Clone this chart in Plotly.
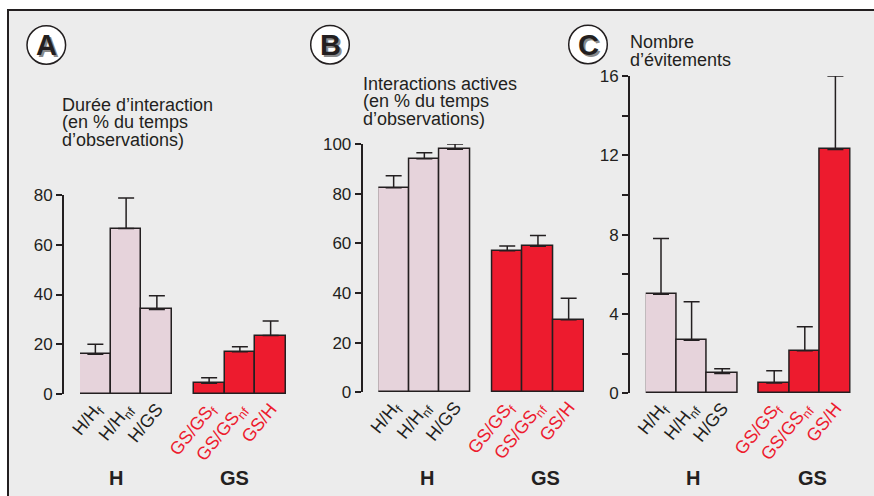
import plotly.graph_objects as go

W, H = 874, 496

# ---------------- data ----------------
h_labels = ["H/H<sub>f</sub>", "H/H<sub>nf</sub>", "H/GS"]
gs_labels = ["GS/GS<sub>f</sub>", "GS/GS<sub>nf</sub>", "GS/H"]

a_h_mean = [16, 66.5, 34]
a_h_err = [4, 12.3, 5.5]
a_gs_mean = [4.3, 17, 23.5]
a_gs_err = [2.2, 2, 5.8]

b_h_mean = [82.4, 94.1, 97.9]
b_h_err = [4.8, 2.4, 2.1]
b_gs_mean = [57, 58.8, 29.2]
b_gs_err = [1.9, 4.3, 8.7]

c_h_mean = [5.0, 2.67, 1.0]
c_h_err = [2.8, 1.95, 0.24]
c_gs_mean = [0.52, 2.15, 12.3]
c_gs_err = [0.62, 1.21, 3.7]

a_ticks = [0, 20, 40, 60, 80]
b_ticks = [0, 20, 40, 60, 80, 100]
c_ticks = [0, 2, 4, 6, 8, 10, 12, 14, 16]
c_ticktext = ["0", "", "4", "", "8", "", "12", "", "16"]

titles_a = ["Durée d’interaction", "(en % du temps", "d’observations)"]
titles_b = ["Interactions actives", "(en % du temps", "d’observations)"]
titles_c = ["Nombre", "d’évitements"]

# ---------------- style ----------------
PINK = "#e6d3db"
RED = "#ed1b2e"
INK = "#231f20"
BG = "#ececec"
FONT = "Liberation Sans, Arial, sans-serif"


def X(px):
    return px / W


def Y(py):
    return 1 - py / H


GAP = 0.7
xpos_h = [0, 1, 2]
xpos_gs = [2 + 1 + GAP + i for i in range(3)]
xrange_ = [-0.5, xpos_gs[-1] + 0.5]

fig = go.Figure()

panels = [
    ("1", a_h_mean, a_h_err, a_gs_mean, a_gs_err, (80, 286), (394, 195), 63, [0, 80], a_ticks, [str(t) for t in a_ticks]),
    ("2", b_h_mean, b_h_err, b_gs_mean, b_gs_err, (378.3, 584), (392.3, 144), 361.7, [0, 100], b_ticks, [str(t) for t in b_ticks]),
    ("3", c_h_mean, c_h_err, c_gs_mean, c_gs_err, (645.7, 850.7), (393.3, 76), 629, [0, 16], c_ticks, c_ticktext),
]

ticktext_x = [f"<span style='color:{INK}'>{t}</span>" for t in h_labels] + \
             [f"<span style='color:{RED}'>{t}</span>" for t in gs_labels]

layout_axes = {}
for i, (n, hm, he, gm, ge, xd, yd, ypos, yr, tv, tt) in enumerate(panels):
    xa = "x" if n == "1" else "x" + n
    ya = "y" if n == "1" else "y" + n
    for xs, m, e, col in [(xpos_h, hm, he, PINK), (xpos_gs, gm, ge, RED)]:
        fig.add_trace(go.Bar(
            x=xs, y=m, xaxis=xa, yaxis=ya, width=1,
            marker=dict(color=col, line=dict(color=INK, width=1.5)),
            error_y=dict(type="data", symmetric=False, array=e, arrayminus=[0] * len(e),
                         color=INK, thickness=1.5, width=8),
            showlegend=False, hoverinfo="skip", cliponaxis=False,
        ))
    xkey = "xaxis" if n == "1" else "xaxis" + n
    ykey = "yaxis" if n == "1" else "yaxis" + n
    layout_axes[xkey] = dict(
        domain=[X(xd[0]), X(xd[1])], range=xrange_, anchor=ya,
        tickmode="array", tickvals=xpos_h + xpos_gs, ticktext=ticktext_x,
        tickangle=-51, ticks="", showline=False, showgrid=False, zeroline=False,
        tickfont=dict(family=FONT, size=18, color=INK), fixedrange=True, automargin=False,
    )
    layout_axes[ykey] = dict(
        domain=[Y(yd[0]), Y(yd[1])], range=yr, anchor="free", position=X(ypos),
        tickmode="array", tickvals=tv, ticktext=tt,
        ticks="outside", ticklen=6, tickwidth=1.5, tickcolor=INK,
        showline=True, linecolor=INK, linewidth=2,
        showgrid=False, zeroline=False, automargin=False,
        tickfont=dict(family=FONT, size=17, color=INK), fixedrange=True,
    )
    okey = "yaxis" + str(4 + i)
    layout_axes[okey] = dict(
        overlaying=ya, range=yr, anchor="free", position=X(ypos),
        tickmode="array", tickvals=tv, ticks="inside", ticklen=7, tickwidth=1.5,
        tickcolor=INK, showticklabels=False, showline=False, showgrid=False,
        zeroline=False, fixedrange=True, automargin=False,
    )

fig.update_layout(**layout_axes)

shapes = [
    dict(type="rect", xref="paper", yref="paper", x0=X(8), x1=X(890), y0=Y(10), y1=Y(520),
         fillcolor=BG, line=dict(color=INK, width=2), layer="below"),
]
annotations = []

for letter, cx, cy in [("A", 46.3, 45), ("B", 330, 44.7), ("C", 588, 44.5)]:
    r = 19.3
    shapes.append(dict(type="circle", xref="paper", yref="paper",
                       x0=X(cx - r), x1=X(cx + r), y0=Y(cy + r), y1=Y(cy - r),
                       fillcolor="white", line=dict(color=INK, width=1.5), layer="below"))
    annotations.append(dict(text=f"<b>{letter}</b>", x=X(cx + 2.5), y=Y(cy + 2), xref="paper", yref="paper",
                            showarrow=False, xanchor="center", yanchor="middle",
                            font=dict(family=FONT, size=29, color="#8a8a8a")))
    annotations.append(dict(text=f"<b>{letter}</b>", x=X(cx), y=Y(cy), xref="paper", yref="paper",
                            showarrow=False, xanchor="center", yanchor="middle",
                            font=dict(family=FONT, size=29, color=INK)))

for lines, x0, y0, dy in [(titles_a, 60, 105, 17.5), (titles_b, 361, 84, 17.5), (titles_c, 628, 42, 18.5)]:
    for k, t in enumerate(lines):
        annotations.append(dict(text=t, x=X(x0), y=Y(y0 + k * dy), xref="paper", yref="paper",
                                showarrow=False, xanchor="left", yanchor="middle",
                                font=dict(family=FONT, size=18, color=INK)))

for t, x0 in [("H", 116.3), ("GS", 234.7), ("H", 426.7), ("GS", 545), ("H", 693.3), ("GS", 812.3)]:
    annotations.append(dict(text=f"<b>{t}</b>", x=X(x0), y=Y(478), xref="paper", yref="paper",
                            showarrow=False, xanchor="center", yanchor="middle",
                            font=dict(family=FONT, size=20, color=INK)))

fig.update_layout(
    width=W, height=H, margin=dict(l=0, r=0, t=0, b=0, pad=0, autoexpand=False),
    paper_bgcolor="white", plot_bgcolor="rgba(0,0,0,0)",
    shapes=shapes, annotations=annotations, bargap=0,
)

fig.write_html("out.html", config={"displayModeBar": False},
               post_script="document.body.style.margin='0';")
